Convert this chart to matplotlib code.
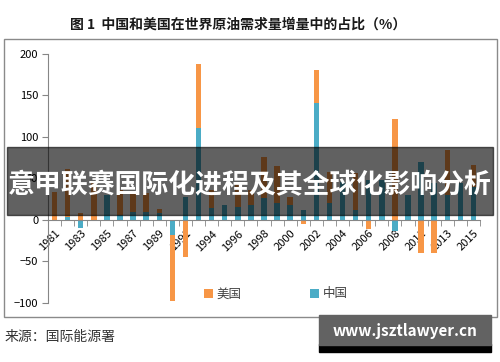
import matplotlib.pyplot as plt
import numpy as np
from matplotlib.patches import Rectangle

plt.rcParams['font.family'] = ['Noto Sans CJK SC', 'DejaVu Sans']

years = ['1981', '1982', '1983', '1984', '1985', '1986', '1987', '1988', '1989', '1990',
         '1991', '1992', '1994', '1995', '1996', '1997', '1998', '1999', '2000', '2001',
         '2002', '2003', '2004', '2005', '2006', '2007', '2008', '2010', '2011', '2012',
         '2013', '2014', '2015']
china = [0, 4, -10, 0, 30, 6, 10, 10, 8, -18,
         28, 111, 14, 18, 16, 18, 26, 20, 18, 12,
         141, 20, 46, 12, 48, 48, -13, 30, 70, 44,
         30, 44, 40]
usa = [34, 58, 9, 44, 0, 30, 22, 22, 5, -79,
       -45, 77, 22, 0, 28, 18, 50, 45, 10, -5,
       40, 38, 0, 44, -11, 0, 122, 0, -40, -40,
       54, 0, 26]

C_US = '#F79646'
C_CN = '#4BACC6'

fig = plt.figure(figsize=(5, 3.62), dpi=100)
ax = fig.add_axes([0.096, 0.163, 0.864, 0.688])

x = np.arange(len(years))
cn = np.array(china, dtype=float)
us = np.array(usa, dtype=float)
# stack like Excel: positives on positives, negatives on negatives
us_bottom = np.where(np.sign(us) == np.sign(cn), cn, 0)
w = 0.42
ax.bar(x, cn, w, color=C_CN, label='中国', zorder=2)
ax.bar(x, us, w, bottom=us_bottom, color=C_US, label='美国', zorder=2)

ax.set_xlim(-0.5, len(years) - 0.5)
ax.set_ylim(-100, 200)
ax.set_yticks([-100, -50, 0, 50, 100, 150, 200])
ax.tick_params(axis='y', labelsize=8, length=4, color='#868686', pad=3)
for s in ['top', 'right']:
    ax.spines[s].set_visible(False)
ax.spines['left'].set_color('#868686')
ax.spines['bottom'].set_position(('data', 0))
ax.spines['bottom'].set_color('#868686')

ax.set_xticks(x[::2])
ax.set_xticklabels(years[::2], rotation=45, ha='right', rotation_mode='anchor')
ax.set_xticks(np.arange(-0.5, len(years)), minor=True)
ax.tick_params(axis='x', which='major', length=0, labelsize=8, pad=6)
ax.tick_params(axis='x', which='minor', length=4, color='#868686')

h, l = ax.get_legend_handles_labels()
leg = fig.legend([h[1], h[0]], ['美国', '中国'], ncol=2, loc='center',
                 bbox_to_anchor=(0.552, 1 - 294 / 362), frameon=False,
                 fontsize=9, handlelength=0.7, handleheight=0.7,
                 handletextpad=0.3, columnspacing=5.5)
for t in leg.get_texts():
    t.set_color('#404040')

# outer frame
fig.patches.append(Rectangle((4 / 500, 1 - 317 / 362), 493 / 500, 278 / 362,
                             transform=fig.transFigure, fill=False,
                             edgecolor='#8a8a8a', lw=1))

fig.text(0.476, 1 - 25 / 362, '图 1  中国和美国在世界原油需求量增量中的占比（%）',
         ha='center', va='center', fontsize=10, fontweight='bold', color='#1a1a1a')
fig.text(0.01, 1 - 337 / 362, '来源：国际能源署', ha='left', va='center',
         fontsize=10, color='#333333')

# dark banner overlay
fig.patches.append(Rectangle((7 / 500, 1 - 215 / 362), 486 / 500, 68 / 362,
                             transform=fig.transFigure, color='black',
                             alpha=0.62, zorder=5))
fig.text(0.5, 1 - 185 / 362, '意甲联赛国际化进程及其全球化影响分析', ha='center',
         va='center', fontsize=19.4, fontweight='bold', color='white', zorder=6)

# watermark box
fig.patches.append(Rectangle((319 / 500, 1 - 352 / 362), 172 / 500, 8 / 362,
                             transform=fig.transFigure, color='black', zorder=5))
fig.patches.append(Rectangle((319 / 500, 1 - 345 / 362), 172 / 500, 30 / 362,
                             transform=fig.transFigure, color='#626262', zorder=5))
fig.text(405 / 500, 1 - 331 / 362, 'www.jsztlawyer.cn', ha='center', va='center',
         fontsize=11, fontweight='bold', color='white', zorder=6)

fig.savefig('out.png', dpi=100)
